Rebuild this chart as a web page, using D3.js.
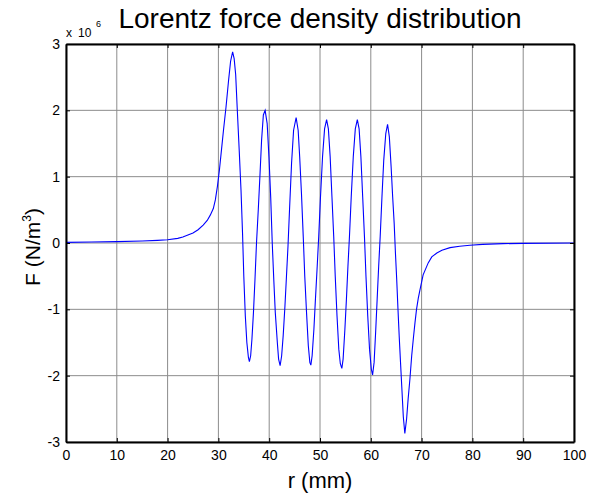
<html lang="en">
  <head>
    <meta charset="utf-8">
    <title>Lorentz force density distribution</title>
    <script src="https://d3js.org/d3.v7.min.js"></script>
    <style>
      body { margin: 0; background: #fff; }
      text { font-family: "Liberation Sans", Arial, sans-serif; }
    </style>
  </head>
  <body>
    <script type="text/javascript">
      var w = 591;
      var h = 501;
      var margin = {top: 44, right: 17, bottom: 59, left: 66};
      var innerWidth = w - margin.left - margin.right;
      var innerHeight = h - margin.top - margin.bottom;

      // data (r in mm, F in 1e6 N/m^3)
      var rValues = [0, 5, 10, 15, 18, 20, 22, 23, 24, 25, 26, 27, 27.8, 28.4, 29, 29.4, 29.8, 30.2, 30.6, 31, 31.5, 32, 32.4, 32.8, 33.1, 33.4, 33.7, 34.1, 34.45, 34.75, 35.0, 35.3, 35.6, 35.9, 36.1, 36.35, 36.6, 36.9, 37.2, 37.5, 37.85, 38.2, 38.5, 38.85, 39.2, 39.6, 39.95, 40.3, 40.6, 40.9, 41.2, 41.6, 41.85, 42.15, 42.45, 42.75, 43.1, 43.4, 43.7, 44.0, 44.4, 44.8, 45.3, 45.7, 46.0, 46.35, 46.7, 47.0, 47.35, 47.7, 48.0, 48.2, 48.45, 48.8, 49.1, 49.45, 49.75, 50.1, 50.5, 50.9, 51.3, 51.65, 52.0, 52.35, 52.7, 53.0, 53.35, 53.7, 54.0, 54.3, 54.55, 54.9, 55.2, 55.5, 55.8, 56.15, 56.55, 56.95, 57.35, 57.7, 58.05, 58.4, 58.75, 59.05, 59.4, 59.75, 60.1, 60.35, 60.65, 60.95, 61.25, 61.55, 61.85, 62.2, 62.55, 62.95, 63.3, 63.65, 64.0, 64.3, 64.6, 64.85, 65.1, 65.35, 65.6, 65.85, 66.1, 66.4, 66.7, 67.05, 67.35, 67.7, 68.05, 68.4, 68.7, 69.0, 69.35, 69.7, 70.3, 71.3, 72, 73, 74, 75.6, 77.5, 79.5, 82, 86, 90, 100];
      var fValues = [0.01, 0.015, 0.02, 0.03, 0.04, 0.05, 0.07, 0.09, 0.12, 0.15, 0.2, 0.27, 0.34, 0.42, 0.52, 0.65, 0.85, 1.1, 1.4, 1.7, 2.05, 2.45, 2.74, 2.88, 2.78, 2.54, 2.04, 1.39, 0.8, 0.15, -0.5, -1.1, -1.5, -1.72, -1.79, -1.7, -1.45, -1.05, -0.55, 0, 0.5, 1.05, 1.55, 1.93, 2.0, 1.8, 1.3, 0.68, 0, -0.55, -1.05, -1.5, -1.75, -1.85, -1.7, -1.4, -0.95, -0.5, -0.05, 0.5, 1.2, 1.7, 1.89, 1.7, 1.3, 0.75, 0.1, -0.5, -1.05, -1.55, -1.8, -1.84, -1.7, -1.3, -0.85, -0.35, 0.1, 0.7, 1.3, 1.72, 1.86, 1.72, 1.3, 0.7, 0.1, -0.5, -1.1, -1.6, -1.82, -1.89, -1.75, -1.3, -0.85, -0.35, 0.1, 0.7, 1.3, 1.72, 1.86, 1.72, 1.3, 0.7, 0.1, -0.5, -1.1, -1.6, -1.9, -1.99, -1.8, -1.35, -0.85, -0.35, 0.1, 0.7, 1.25, 1.65, 1.79, 1.6, 1.15, 0.7, 0.3, -0.15, -0.55, -1.0, -1.42, -1.8, -2.17, -2.62, -2.87, -2.65, -2.35, -2.05, -1.7, -1.42, -1.2, -1.0, -0.83, -0.7, -0.48, -0.3, -0.21, -0.15, -0.11, -0.07, -0.05, -0.035, -0.02, -0.01, -0.005, 0];
      var xTicks = [0, 10, 20, 30, 40, 50, 60, 70, 80, 90, 100];
      var yTicks = [-3, -2, -1, 0, 1, 2, 3];

      var data = rValues.map(function (r, i) { return {r: r, f: fValues[i]}; });

      var xScale = d3.scaleLinear().domain([0, 100]).range([0, innerWidth]);
      var yScale = d3.scaleLinear().domain([-3, 3]).range([innerHeight, 0]);

      var svg = d3.select("body")
                  .append("svg")
                  .attr("width", w)
                  .attr("height", h);
      var g = svg.append("g")
                 .attr("transform", `translate(${margin.left}, ${margin.top})`);

      // grid
      g.selectAll(".vgrid")
       .data(xTicks)
       .enter()
       .append("line")
       .attr("x1", function (d) { return xScale(d); })
       .attr("x2", function (d) { return xScale(d); })
       .attr("y1", 0)
       .attr("y2", innerHeight)
       .style("stroke", "#8c8c8c")
       .attr("stroke-width", 1);
      g.selectAll(".hgrid")
       .data(yTicks)
       .enter()
       .append("line")
       .attr("x1", 0)
       .attr("x2", innerWidth)
       .attr("y1", function (d) { return yScale(d); })
       .attr("y2", function (d) { return yScale(d); })
       .style("stroke", "#8c8c8c")
       .attr("stroke-width", 1);

      // curve
      var line = d3.line()
                   .x(function (d) { return xScale(d.r); })
                   .y(function (d) { return yScale(d.f); });
      g.append("path")
       .datum(data)
       .attr("d", line)
       .attr("fill", "none")
       .attr("stroke", "#0000ff")
       .attr("stroke-width", 1.1);

      // axes (ticks pointing inward)
      var fmt = function (d) { return String(d); };
      var xAxis = d3.axisBottom(xScale).tickValues(xTicks).tickSize(-4).tickSizeOuter(0).tickPadding(8).tickFormat(fmt);
      var yAxis = d3.axisLeft(yScale).tickValues(yTicks).tickSize(-4).tickSizeOuter(0).tickPadding(6).tickFormat(fmt);
      var xTop = d3.axisTop(xScale).tickValues(xTicks).tickSize(-4).tickSizeOuter(0);
      var yRight = d3.axisRight(yScale).tickValues(yTicks).tickSize(-4).tickSizeOuter(0);

      g.append("g").attr("class", "xAxis").attr("transform", `translate(0, ${innerHeight})`).call(xAxis);
      g.append("g").attr("class", "yAxis").call(yAxis);
      g.append("g").attr("class", "xTop").call(xTop);
      g.append("g").attr("class", "yRight").attr("transform", `translate(${innerWidth}, 0)`).call(yRight);
      g.selectAll(".xTop text, .yRight text").remove();

      g.selectAll(".domain").attr("stroke", "#000").attr("stroke-width", 2);
      g.selectAll(".tick line").attr("stroke", "#000");
      g.selectAll(".tick text")
       .style("font-family", "'Liberation Sans', Arial, sans-serif")
       .style("font-size", "14px")
       .attr("fill", "#000");

      // exponent label
      g.append("text").attr("x", 0).attr("y", -7).style("font-size", "12px").text("x");
      g.append("text").attr("x", 12).attr("y", -7).style("font-size", "12px").text("10");
      g.append("text").attr("x", 30).attr("y", -17).style("font-size", "9px").text("6");

      // title
      svg.append("text")
         .attr("x", margin.left + innerWidth / 2)
         .attr("y", 28)
         .attr("text-anchor", "middle")
         .style("font-size", "28px")
         .text("Lorentz force density distribution");

      // x label
      svg.append("text")
         .attr("x", margin.left + innerWidth / 2)
         .attr("y", 488)
         .attr("text-anchor", "middle")
         .style("font-size", "22px")
         .text("r (mm)");

      // y label
      var ylab = svg.append("text")
                    .attr("transform", `translate(40, ${margin.top + innerHeight / 2 + 4}) rotate(-90)`)
                    .attr("text-anchor", "middle")
                    .style("font-size", "21px");
      ylab.append("tspan").text("F (N/m");
      ylab.append("tspan").attr("dy", -9).style("font-size", "12px").text("3");
      ylab.append("tspan").attr("dy", 9).text(")");
    </script>
  </body>
</html>
